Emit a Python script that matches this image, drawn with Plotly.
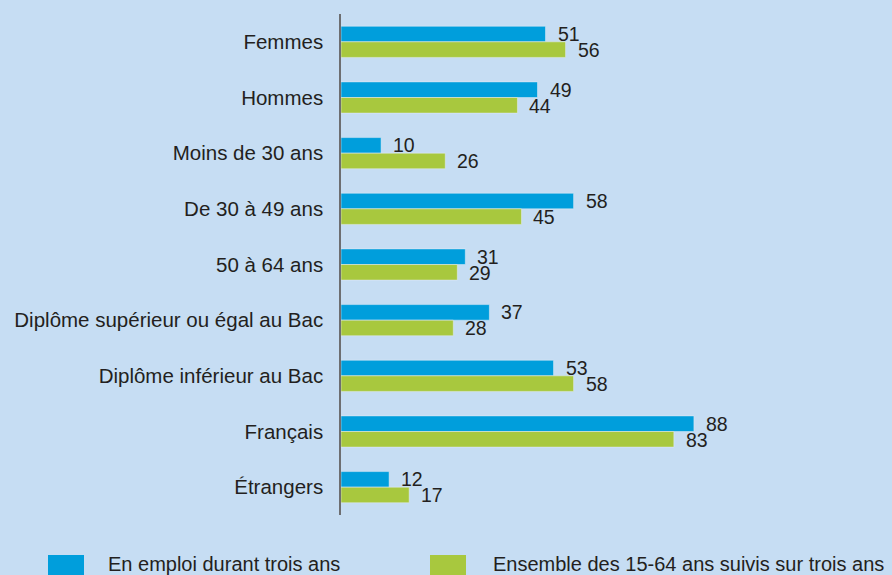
import plotly.graph_objects as go

categories = [
    "Femmes", "Hommes", "Moins de 30 ans", "De 30 à 49 ans", "50 à 64 ans",
    "Diplôme supérieur ou égal au Bac", "Diplôme inférieur au Bac",
    "Français", "Étrangers",
]
en_emploi = [51, 49, 10, 58, 31, 37, 53, 88, 12]
ensemble = [56, 44, 26, 45, 29, 28, 58, 83, 17]
series_names = ["En emploi durant trois ans", "Ensemble des 15-64 ans suivis sur trois ans"]

BLUE = "#009edc"
GREEN = "#a8c83e"
BG = "#c6ddf3"
TXT = "#231f20"
FONT = "Liberation Sans"
FS = 20.5

W, H = 892, 575
ML, MR, MT, MB = 341, 0, 14, 60

fig = go.Figure()
fig.add_trace(go.Bar(y=categories, x=en_emploi, orientation="h", name=series_names[0],
                     marker=dict(color=BLUE), showlegend=False))
fig.add_trace(go.Bar(y=categories, x=ensemble, orientation="h", name=series_names[1],
                     marker=dict(color=GREEN), showlegend=False))

# value labels, centred on each bar of the pair
anns = []
for vals, ys in ((en_emploi, 8), (ensemble, -8)):
    for c, v in zip(categories, vals):
        anns.append(dict(x=v, y=c, text=str(v), showarrow=False, xanchor="left",
                         xshift=10, yshift=ys, font=dict(size=19.5, color=TXT, family=FONT)))

# legend drawn by hand (boxes partly cut by the bottom edge)
def px(x):
    return (x - ML) / (W - ML - MR)

def py(y):
    return (H - MB - y) / (H - MT - MB)

shapes = []
for (x0, x1, col, tx, label) in ((48, 84, BLUE, 106, series_names[0]),
                                 (430, 466, GREEN, 491, series_names[1])):
    shapes.append(dict(type="rect", xref="paper", yref="paper", x0=px(x0), x1=px(x1),
                       y0=py(555), y1=py(580), fillcolor=col, line=dict(width=0)))
    anns.append(dict(xref="paper", yref="paper", x=px(tx), y=py(563.5), text=label,
                     showarrow=False, xanchor="left", yanchor="middle",
                     font=dict(size=20, color=TXT, family=FONT)))

fig.update_layout(
    width=W, height=H,
    margin=dict(l=ML, r=MR, t=MT, b=MB),
    paper_bgcolor=BG, plot_bgcolor=BG,
    barmode="group", bargap=0.44, bargroupgap=0,
    xaxis=dict(range=[0, 137.4], visible=False, showgrid=False, zeroline=False),
    yaxis=dict(autorange="reversed", showgrid=False, zeroline=False, showline=True,
               linecolor="#6d6e71", linewidth=1.5, ticks="", ticklabelstandoff=12,
               tickfont=dict(size=FS, color=TXT, family=FONT)),
    annotations=anns, shapes=shapes,
)

fig.write_html("out.html", config={"displayModeBar": False},
               post_script="document.body.style.margin='0';")
